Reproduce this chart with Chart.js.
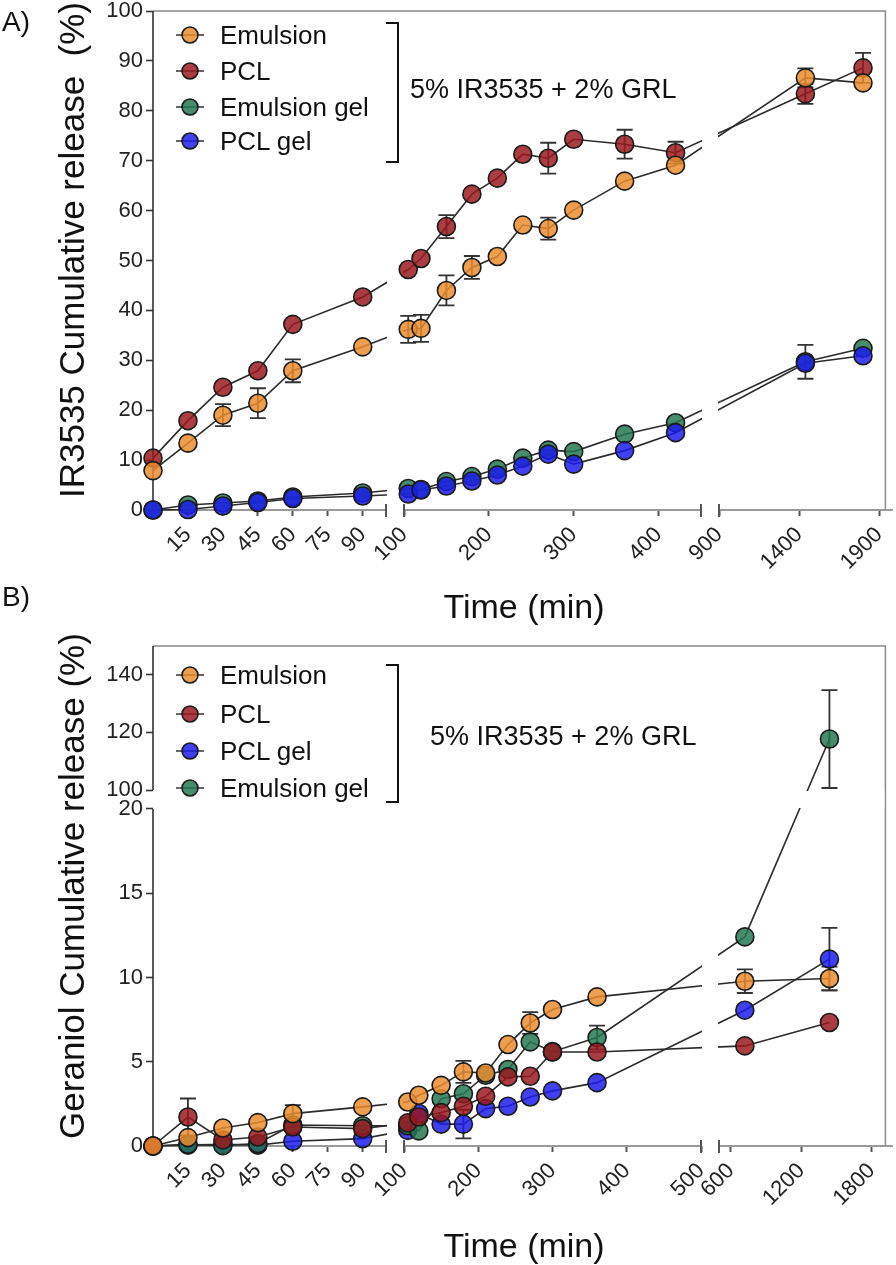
<!DOCTYPE html>
<html>
<head>
<meta charset="utf-8">
<script src="https://cdn.jsdelivr.net/npm/chart.js"></script>
<style>
  html, body { margin: 0; padding: 0; background: #fff; }
  #page { position: relative; width: 896px; height: 1265px; overflow: hidden;
          font-family: "Liberation Sans", Arial, sans-serif; color: #111; }
  canvas { position: absolute; left: 0; }
  .txt { position: absolute; white-space: nowrap; line-height: 1; z-index: 2; }
  .ytitle { position: absolute; white-space: nowrap; line-height: 1; font-size: 35px; z-index: 2;
            transform: translate(-50%, -50%) rotate(-90deg); }
  .xtitle { position: absolute; white-space: nowrap; line-height: 1; font-size: 34px; z-index: 2;
            transform: translateX(-50%); }
  .row { position: absolute; left: 176px; height: 30px; display: flex; align-items: center;
         font-size: 26px; line-height: 1; z-index: 2; }
  .row svg { margin-right: 16px; }
  .bracket { position: absolute; width: 11px; border: 2px solid #111; border-left: none; z-index: 2; }
</style>
</head>
<body>
<div id="page">
  <canvas id="chartA" width="896" height="580" style="top:0"></canvas>
  <canvas id="chartB" width="896" height="650" style="top:580px"></canvas>

  <div class="txt" style="left:2px; top:8px; font-size:28px">A)</div>
  <div class="txt" style="left:2px; top:583px; font-size:28px">B)</div>

  <div class="ytitle" style="left:71px; top:250px">IR3535 Cumulative release&nbsp; (%)</div>
  <div class="ytitle" style="left:71px; top:886px">Geraniol Cumulative release (%)</div>
  <div class="xtitle" style="left:524px; top:589px">Time (min)</div>
  <div class="xtitle" style="left:524px; top:1228px">Time (min)</div>

  <div id="legendA"></div>
  <div id="legendB"></div>
  <div class="bracket" style="left:386px; top:22px; height:137px"></div>
  <div class="bracket" style="left:386px; top:664px; height:135px"></div>
  <div class="txt" style="left:410px; top:76px; font-size:27px">5% IR3535 + 2% GRL</div>
  <div class="txt" style="left:430px; top:723px; font-size:27px">5% IR3535 + 2% GRL</div>
</div>

<script>
// ---- panel A: IR3535 ----
const timesA = [0, 15, 30, 45, 60, 90, 105, 120, 150, 180, 210, 240, 270, 300, 360, 420, 1440, 1800];
const emulsionA = [7.9, 13.4, 19.0, 21.4, 27.9, 32.7, 36.2, 36.4, 44.0, 48.6, 50.8, 57.1, 56.4, 60.1, 65.9, 69.1, 86.6, 85.6];
const emulsionErrA = [0, 0, 2.2, 3.0, 2.3, 0, 2.7, 2.7, 3.0, 2.3, 0, 0, 2.2, 0, 0, 0, 1.9, 0];
const pclA = [10.4, 17.9, 24.6, 27.9, 37.2, 42.7, 48.2, 50.4, 56.8, 63.3, 66.5, 71.3, 70.5, 74.3, 73.3, 71.6, 83.4, 88.6];
const pclErrA = [0, 0, 0, 0, 0, 0, 0, 0, 2.3, 0, 0, 0, 3.1, 0, 2.9, 2.2, 2.0, 3.0];
const emulsionGelA = [0, 1.0, 1.4, 1.8, 2.6, 3.4, 4.3, 4.1, 5.7, 6.7, 8.2, 10.4, 12.0, 11.7, 15.2, 17.5, 29.7, 32.4];
const emulsionGelErrA = [0, 0, 0, 0, 0, 0, 0, 0, 0, 0, 0, 0, 0, 0, 0, 0, 3.4, 0];
const pclGelA = [0, 0.1, 0.8, 1.5, 2.3, 2.8, 3.2, 4.0, 4.8, 5.8, 7.0, 8.8, 11.2, 9.2, 11.9, 15.5, 29.4, 30.9];
const pclGelErrA = [0, 0, 0, 0, 0, 0, 0, 0, 0, 0, 0, 0, 0, 0, 0, 0, 0, 0];
const xTicksA = [15, 30, 45, 60, 75, 90, 100, 200, 300, 400, 900, 1400, 1900];
const yTicksA = [0, 10, 20, 30, 40, 50, 60, 70, 80, 90, 100];

// ---- panel B: geraniol ----
const timesB = [0, 15, 30, 45, 60, 90, 105, 120, 150, 180, 210, 240, 270, 300, 360, 720, 1440];
const emulsionB = [0, 0.5, 1.07, 1.39, 1.92, 2.32, 2.61, 3.01, 3.6, 4.4, 4.33, 6.02, 7.3, 8.1, 8.85, 9.78, 9.94];
const emulsionErrB = [0, 0, 0, 0, 0.5, 0, 0, 0, 0, 0.65, 0, 0, 0.65, 0, 0, 0.7, 0.7];
const pclB = [0, 1.72, 0.36, 0.53, 1.13, 1.03, 1.37, 1.72, 1.98, 2.36, 2.95, 4.1, 4.14, 5.58, 5.58, 5.94, 7.33];
const pclErrB = [0, 1.1, 0, 0, 0, 0, 0, 0, 0, 0, 0, 0, 0, 0, 0, 0, 0];
const pclGelB = [0, 0.05, 0.1, 0.05, 0.28, 0.44, 0.93, 1.93, 1.3, 1.3, 2.22, 2.36, 2.91, 3.27, 3.76, 8.06, 11.09];
const pclGelErrB = [0, 0, 0, 0, 0, 0, 0, 0, 0, 0.85, 0, 0, 0, 0, 0, 0, 1.85];
const emulsionGelB = [0, 0.1, 0.02, 0.15, 1.25, 1.2, 1.2, 0.9, 2.8, 3.1, 4.2, 4.54, 6.18, 5.6, 6.44, 12.41, 117.7];
const emulsionGelErrB = [0, 0, 0, 0, 0, 0, 0, 0, 0, 0, 0, 0, 0, 0, 0.7, 0, 17];
const xTicksB = [15, 30, 45, 60, 75, 90, 100, 200, 300, 400, 500, 600, 1200, 1800];
const yTicksB = [0, 5, 10, 15, 20, 100, 120, 140];

const COLORS = {
  emulsion: 'rgba(234,140,44,0.84)',
  pcl: 'rgba(152,24,30,0.84)',
  emulsionGel: 'rgba(36,118,80,0.84)',
  pclGel: 'rgba(28,28,236,0.84)'
};

// broken axes: each piece maps a value range onto a pixel span (offset from the axis start)
const BREAKS = {
  xA: [{ min: 0, max: 100, a: 0, b: 233, open: true }, { min: 100, max: 450, a: 251, b: 548 }, { min: 900, max: 1987.5, a: 566, b: 740 }],
  yA: [{ min: 0, max: 100, a: 0, b: 499 }],
  xB: [{ min: 0, max: 100, a: 0, b: 233, open: true }, { min: 100, max: 500, a: 251, b: 548 }, { min: 500, max: 1981, a: 566, b: 740 }],
  yB: [{ min: 0, max: 20, a: 0, b: 337 }, { min: 100, max: 150, a: 356, b: 500 }]
};

Chart.defaults.font.family = '"Liberation Sans", Arial, sans-serif';
Chart.defaults.color = '#222';

class BrokenScale extends Chart.LinearScale {
  getPixelForValue(value) {
    const parts = BREAKS[this.options.breaks];
    const p = parts.find(s => (s.open ? value < s.max : value <= s.max)) || parts[parts.length - 1];
    const len = this.isHorizontal() ? this.width : this.height;
    const off = p.a + (value - p.min) / (p.max - p.min) * (p.b - p.a);
    return this.getPixelForDecimal(off / len);
  }
}
BrokenScale.id = 'broken';
BrokenScale.defaults = { ticks: { callback: v => String(v) } };
Chart.register(BrokenScale);

// axis pieces, white gaps at the breaks and error bars
function breakPlugin(series, xKey, yKey) {
  const xp = BREAKS[xKey];
  const yp = BREAKS[yKey];
  let blanked = false;
  return {
    id: 'breaks',
    beforeDatasetsDraw(chart) {
      blanked = false;
      const { ctx, chartArea: ca } = chart;
      ctx.save();
      ctx.lineCap = 'butt';
      ctx.strokeStyle = '#8a8a8a';
      ctx.lineWidth = 1.5;
      ctx.beginPath();
      ctx.moveTo(ca.left, ca.top); ctx.lineTo(ca.right, ca.top); ctx.lineTo(ca.right, ca.bottom);
      ctx.stroke();
      ctx.strokeStyle = '#9a9a9a';
      ctx.lineWidth = 2;
      xp.forEach(p => {
        ctx.beginPath();
        ctx.moveTo(ca.left + p.a, ca.bottom); ctx.lineTo(ca.left + p.b, ca.bottom);
        ctx.stroke();
      });
      ctx.strokeStyle = '#555';
      xp.forEach((p, i) => {
        const xs = [];
        if (i > 0) xs.push(ca.left + p.a);
        if (i < xp.length - 1) xs.push(ca.left + p.b);
        xs.forEach(x => {
          ctx.beginPath(); ctx.moveTo(x, ca.bottom - 6); ctx.lineTo(x, ca.bottom + 7); ctx.stroke();
        });
      });
      ctx.strokeStyle = '#333';
      ctx.lineWidth = 1.6;
      yp.forEach(p => {
        ctx.beginPath();
        ctx.moveTo(ca.left, ca.bottom - p.a); ctx.lineTo(ca.left, ca.bottom - p.b);
        ctx.stroke();
      });
      ctx.restore();
    },
    beforeDatasetDraw(chart, args) {
      if (blanked || args.meta.order >= 10) return;
      blanked = true;
      const { ctx, chartArea: ca } = chart;
      ctx.save();
      ctx.fillStyle = '#fff';
      for (let i = 1; i < xp.length; i++) {
        ctx.fillRect(ca.left + xp[i - 1].b + 1, ca.top + 1, xp[i].a - xp[i - 1].b - 2, ca.bottom - ca.top - 2);
      }
      for (let i = 1; i < yp.length; i++) {
        ctx.fillRect(ca.left + 1, ca.bottom - yp[i].a + 1, ca.right - ca.left - 2, yp[i].a - yp[i - 1].b - 2);
      }
      const xs = chart.scales.x, ys = chart.scales.y;
      ctx.strokeStyle = '#333';
      ctx.lineWidth = 1.8;
      series.forEach(s => {
        s.times.forEach((t, i) => {
          const e = s.errs[i];
          if (!e) return;
          const x = xs.getPixelForValue(t);
          const y1 = ys.getPixelForValue(s.values[i] - e);
          const y2 = ys.getPixelForValue(s.values[i] + e);
          ctx.beginPath();
          ctx.moveTo(x, y1); ctx.lineTo(x, y2);
          ctx.moveTo(x - 8, y1); ctx.lineTo(x + 8, y1);
          ctx.moveTo(x - 8, y2); ctx.lineTo(x + 8, y2);
          ctx.stroke();
        });
      });
      ctx.restore();
    }
  };
}

function makePanel(id, series, xKey, yKey, xTicks, yTicks, xMax, yMax, padTop, xHeight) {
  const datasets = [];
  series.forEach(s => {
    datasets.push({
      label: s.label, data: s.times.map((t, i) => ({ x: t, y: s.values[i] })),
      order: 10, clip: false, borderColor: '#2b2b2b', borderWidth: 1.6, pointRadius: 0, tension: 0
    });
  });
  series.forEach(s => {
    datasets.push({
      label: s.label, data: s.times.map((t, i) => ({ x: t, y: s.values[i] })),
      order: s.z, clip: false, showLine: false,
      pointRadius: 9, pointBorderWidth: 1.6, pointBorderColor: '#1a1a1a',
      pointBackgroundColor: s.color
    });
  });
  return new Chart(document.getElementById(id), {
    type: 'line',
    data: { datasets },
    options: {
      responsive: false,
      animation: false,
      events: [],
      layout: { padding: { top: padTop, right: 3, left: 0, bottom: 0 } },
      plugins: { legend: { display: false }, tooltip: { enabled: false } },
      scales: {
        x: {
          type: 'broken', breaks: xKey, min: 0, max: xMax,
          afterBuildTicks: sc => { sc.ticks = xTicks.map(v => ({ value: v })); },
          afterFit: sc => { sc.height = xHeight; sc.paddingLeft = 0; sc.paddingRight = 0; },
          ticks: { autoSkip: false, minRotation: 45, maxRotation: 45, padding: 6,
                   font: { size: 22 }, color: '#222', callback: v => String(v) },
          grid: { display: true, drawOnChartArea: false, drawTicks: true, tickLength: 6,
                  tickColor: '#555', tickWidth: 2, color: '#555' },
          border: { display: false }
        },
        y: {
          type: 'broken', breaks: yKey, min: 0, max: yMax,
          afterBuildTicks: sc => { sc.ticks = yTicks.map(v => ({ value: v })); },
          afterFit: sc => { sc.width = 153; sc.paddingTop = 0; sc.paddingBottom = 0; },
          ticks: { autoSkip: false, padding: 3, font: { size: 22 }, color: '#222', callback: v => String(v) },
          grid: { display: true, drawOnChartArea: false, drawTicks: true, tickLength: 7,
                  tickColor: '#333', tickWidth: 1.6, color: '#333' },
          border: { display: false }
        }
      }
    },
    plugins: [breakPlugin(series, xKey, yKey)]
  });
}

const seriesA = [
  { label: 'Emulsion', times: timesA, values: emulsionA, errs: emulsionErrA, color: COLORS.emulsion, z: 1 },
  { label: 'PCL', times: timesA, values: pclA, errs: pclErrA, color: COLORS.pcl, z: 2 },
  { label: 'Emulsion gel', times: timesA, values: emulsionGelA, errs: emulsionGelErrA, color: COLORS.emulsionGel, z: 4 },
  { label: 'PCL gel', times: timesA, values: pclGelA, errs: pclGelErrA, color: COLORS.pclGel, z: 3 }
];
const seriesB = [
  { label: 'Emulsion', times: timesB, values: emulsionB, errs: emulsionErrB, color: COLORS.emulsion, z: 1 },
  { label: 'PCL', times: timesB, values: pclB, errs: pclErrB, color: COLORS.pcl, z: 2 },
  { label: 'PCL gel', times: timesB, values: pclGelB, errs: pclGelErrB, color: COLORS.pclGel, z: 4 },
  { label: 'Emulsion gel', times: timesB, values: emulsionGelB, errs: emulsionGelErrB, color: COLORS.emulsionGel, z: 3 }
];

makePanel('chartA', seriesA, 'xA', 'yA', xTicksA, yTicksA, 1987.5, 100, 11, 70);
makePanel('chartB', seriesB, 'xB', 'yB', xTicksB, yTicksB, 1981, 150, 66, 84);

function legend(elId, series, centers) {
  const el = document.getElementById(elId);
  series.forEach((s, i) => {
    const row = document.createElement('div');
    row.className = 'row';
    row.style.top = (centers[i] - 15) + 'px';
    row.innerHTML = '<svg width="28" height="20"><line x1="0" y1="10" x2="28" y2="10" stroke="#333" stroke-width="1.5"/>' +
      '<circle cx="14" cy="10" r="8" fill="' + s.color + '" stroke="#1a1a1a" stroke-width="1.6"/></svg>' +
      '<span>' + s.label + '</span>';
    el.appendChild(row);
  });
}
legend('legendA', seriesA, [35, 71, 107, 141]);
legend('legendB', seriesB, [675, 714, 751, 788]);
</script>
</body>
</html>
